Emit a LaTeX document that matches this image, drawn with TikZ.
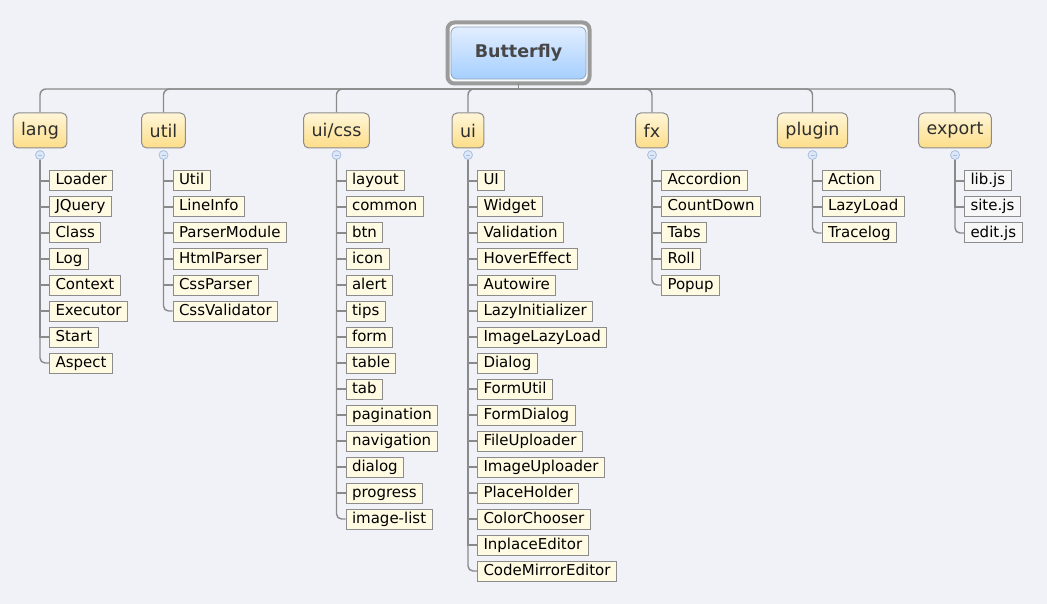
\documentclass[tikz,border=0pt]{standalone}
\usepackage{fontspec}
\setmainfont{DejaVu Sans}
\usepackage{xcolor}
\usepackage{tikz}
\usetikzlibrary{positioning}
\definecolor{bgcol}{HTML}{F1F2F7}
\definecolor{linecol}{HTML}{8A8A8A}
\definecolor{boxline}{HTML}{8C8C8C}
\definecolor{cattop}{HTML}{FFF6D8}
\definecolor{catbot}{HTML}{FDDD88}
\definecolor{leafcol}{HTML}{FFFBE3}
\definecolor{exportcol}{HTML}{F7F7F7}
\definecolor{foldcol}{HTML}{DCE7F7}
\definecolor{foldline}{HTML}{A9BEE0}
\definecolor{roottop}{HTML}{E2EEFF}
\definecolor{rootbot}{HTML}{A6CFFF}
\definecolor{rootline}{HTML}{8AA4C0}
\definecolor{framecol}{HTML}{9B9B9B}
\tikzset{
    conn/.style ={draw=linecol, line width=1.4pt},
    frame/.style ={rectangle, rounded corners=7pt, draw=framecol, line width=4pt, fill=white!60!bgcol, minimum width=142pt, minimum height=61pt, outer sep=0pt},
    rootbox/.style ={rectangle, rounded corners=6pt, draw=rootline, line width=0.8pt, top color=roottop, bottom color=rootbot, minimum width=135pt, minimum height=52pt, text=black!72, font=\fontsize{17.5}{20}\selectfont\bfseries},
    cat/.style ={rectangle, rounded corners=5pt, draw=boxline, line width=1pt, top color=cattop, bottom color=catbot, minimum height=35pt, inner xsep=8pt, text=black!82, font=\fontsize{17.5}{20}\selectfont},
    leaf/.style ={rectangle, draw=boxline, line width=1pt, fill=leafcol, minimum height=20pt, inner xsep=6pt, inner ysep=2pt, text height=11pt, text depth=3pt, text=black, font=\fontsize{15}{17}\selectfont},
    exleaf/.style ={leaf, fill=exportcol},
    fold/.style ={circle, draw=foldline, fill=foldcol, line width=0.8pt, inner sep=0pt, minimum size=9pt,
        path picture={\draw[foldline, line width=0.8pt] ([xshift=-2pt]path picture bounding box.center) -- ([xshift=2pt]path picture bounding box.center);}},
    drop/.style ={conn, rounded corners=6pt, to path={(\tikztostart) -| (\tikztotarget)}},
    tick/.style ={conn, to path={(\tikztostart) |- (\tikztotarget.west)}},
    lasttick/.style ={tick, rounded corners=5pt}
}
\begin{document}
\begin{tikzpicture}[x=1pt,y=-1pt]
        \useasboundingbox[fill=bgcol] (0,0) rectangle (1047,604);

        \node[frame] (frame) at (518.5,53) {};
        \node[rootbox] (root) at (518.5,53) {Butterfly};
        \coordinate (hub) at (518.5,89);

        \node[cat] (lang) at (40,130.5) {lang};
        \node[cat] (util) at (163.5,130.5) {util};
        \node[cat] (uicss) at (336.5,130.5) {ui/css};
        \node[cat] (ui) at (468,130.5) {ui};
        \node[cat] (fx) at (652,130.5) {fx};
        \node[cat] (plugin) at (812.5,130.5) {plugin};
        \node[cat] (export) at (955,130.5) {export};

        \node[fold] (flang) at (40,155) {};
        \node[fold] (futil) at (163.5,155) {};
        \node[fold] (fuicss) at (336.5,155) {};
        \node[fold] (fui) at (468,155) {};
        \node[fold] (ffx) at (652,155) {};
        \node[fold] (fplugin) at (812.5,155) {};
        \node[fold] (fexport) at (955,155) {};

        % lang
        \node[leaf, anchor=west] (la) at (49,181) {Loader};
        \node[leaf, below right=5pt and 0pt of la.south west] (lb) {JQuery};
        \node[leaf, below right=5pt and 0pt of lb.south west] (lc) {Class};
        \node[leaf, below right=5pt and 0pt of lc.south west] (ld) {Log};
        \node[leaf, below right=5pt and 0pt of ld.south west] (le) {Context};
        \node[leaf, below right=5pt and 0pt of le.south west] (lf) {Executor};
        \node[leaf, below right=5pt and 0pt of lf.south west] (lg) {Start};
        \node[leaf, below right=5pt and 0pt of lg.south west] (lh) {Aspect};

        % util
        \node[leaf, anchor=west] (ua) at (172.5,181) {Util};
        \node[leaf, below right=5pt and 0pt of ua.south west] (ub) {LineInfo};
        \node[leaf, below right=5pt and 0pt of ub.south west] (uc) {ParserModule};
        \node[leaf, below right=5pt and 0pt of uc.south west] (ud) {HtmlParser};
        \node[leaf, below right=5pt and 0pt of ud.south west] (ue) {CssParser};
        \node[leaf, below right=5pt and 0pt of ue.south west] (uf) {CssValidator};

        % ui/css
        \node[leaf, anchor=west] (ca) at (345.5,181) {layout};
        \node[leaf, below right=5pt and 0pt of ca.south west] (cb) {common};
        \node[leaf, below right=5pt and 0pt of cb.south west] (cc) {btn};
        \node[leaf, below right=5pt and 0pt of cc.south west] (cd) {icon};
        \node[leaf, below right=5pt and 0pt of cd.south west] (ce) {alert};
        \node[leaf, below right=5pt and 0pt of ce.south west] (cf) {tips};
        \node[leaf, below right=5pt and 0pt of cf.south west] (cg) {form};
        \node[leaf, below right=5pt and 0pt of cg.south west] (ch) {table};
        \node[leaf, below right=5pt and 0pt of ch.south west] (ci) {tab};
        \node[leaf, below right=5pt and 0pt of ci.south west] (cj) {pagination};
        \node[leaf, below right=5pt and 0pt of cj.south west] (ck) {navigation};
        \node[leaf, below right=5pt and 0pt of ck.south west] (cl) {dialog};
        \node[leaf, below right=5pt and 0pt of cl.south west] (cm) {progress};
        \node[leaf, below right=5pt and 0pt of cm.south west] (cn) {image-list};

        % ui
        \node[leaf, anchor=west] (ia) at (477,181) {UI};
        \node[leaf, below right=5pt and 0pt of ia.south west] (ib) {Widget};
        \node[leaf, below right=5pt and 0pt of ib.south west] (ic) {Validation};
        \node[leaf, below right=5pt and 0pt of ic.south west] (id) {HoverEffect};
        \node[leaf, below right=5pt and 0pt of id.south west] (ie) {Autowire};
        \node[leaf, below right=5pt and 0pt of ie.south west] (if) {LazyInitializer};
        \node[leaf, below right=5pt and 0pt of if.south west] (ig) {ImageLazyLoad};
        \node[leaf, below right=5pt and 0pt of ig.south west] (ih) {Dialog};
        \node[leaf, below right=5pt and 0pt of ih.south west] (ii) {FormUtil};
        \node[leaf, below right=5pt and 0pt of ii.south west] (ij) {FormDialog};
        \node[leaf, below right=5pt and 0pt of ij.south west] (ik) {FileUploader};
        \node[leaf, below right=5pt and 0pt of ik.south west] (il) {ImageUploader};
        \node[leaf, below right=5pt and 0pt of il.south west] (im) {PlaceHolder};
        \node[leaf, below right=5pt and 0pt of im.south west] (in) {ColorChooser};
        \node[leaf, below right=5pt and 0pt of in.south west] (io) {InplaceEditor};
        \node[leaf, below right=5pt and 0pt of io.south west] (ip) {CodeMirrorEditor};

        % fx
        \node[leaf, anchor=west] (xa) at (661,181) {Accordion};
        \node[leaf, below right=5pt and 0pt of xa.south west] (xb) {CountDown};
        \node[leaf, below right=5pt and 0pt of xb.south west] (xc) {Tabs};
        \node[leaf, below right=5pt and 0pt of xc.south west] (xd) {Roll};
        \node[leaf, below right=5pt and 0pt of xd.south west] (xe) {Popup};

        % plugin
        \node[leaf, anchor=west] (pa) at (821.5,181) {Action};
        \node[leaf, below right=5pt and 0pt of pa.south west] (pb) {LazyLoad};
        \node[leaf, below right=5pt and 0pt of pb.south west] (pc) {Tracelog};

        % export
        \node[exleaf, anchor=west] (ea) at (964,181) {lib.js};
        \node[exleaf, below right=5pt and 0pt of ea.south west] (eb) {site.js};
        \node[exleaf, below right=5pt and 0pt of eb.south west] (ec) {edit.js};

        \draw[conn] (frame) -- (hub);
        \path (hub) edge[drop] (lang) edge[drop] (util) edge[drop] (uicss) edge[drop] (ui)
            edge[drop] (fx) edge[drop] (plugin) edge[drop] (export);

        \path (flang) edge[tick] (la) edge[tick] (lb) edge[tick] (lc) edge[tick] (ld)
            edge[tick] (le) edge[tick] (lf) edge[tick] (lg) edge[lasttick] (lh);
        \path (futil) edge[tick] (ua) edge[tick] (ub) edge[tick] (uc) edge[tick] (ud)
            edge[tick] (ue) edge[lasttick] (uf);
        \path (fuicss) edge[tick] (ca) edge[tick] (cb) edge[tick] (cc) edge[tick] (cd)
            edge[tick] (ce) edge[tick] (cf) edge[tick] (cg) edge[tick] (ch) edge[tick] (ci)
            edge[tick] (cj) edge[tick] (ck) edge[tick] (cl) edge[tick] (cm) edge[lasttick] (cn);
        \path (fui) edge[tick] (ia) edge[tick] (ib) edge[tick] (ic) edge[tick] (id)
            edge[tick] (ie) edge[tick] (if) edge[tick] (ig) edge[tick] (ih) edge[tick] (ii)
            edge[tick] (ij) edge[tick] (ik) edge[tick] (il) edge[tick] (im) edge[tick] (in)
            edge[tick] (io) edge[lasttick] (ip);
        \path (ffx) edge[tick] (xa) edge[tick] (xb) edge[tick] (xc) edge[tick] (xd)
            edge[lasttick] (xe);
        \path (fplugin) edge[tick] (pa) edge[tick] (pb) edge[lasttick] (pc);
        \path (fexport) edge[tick] (ea) edge[tick] (eb) edge[lasttick] (ec);
\end{tikzpicture}
\end{document}
